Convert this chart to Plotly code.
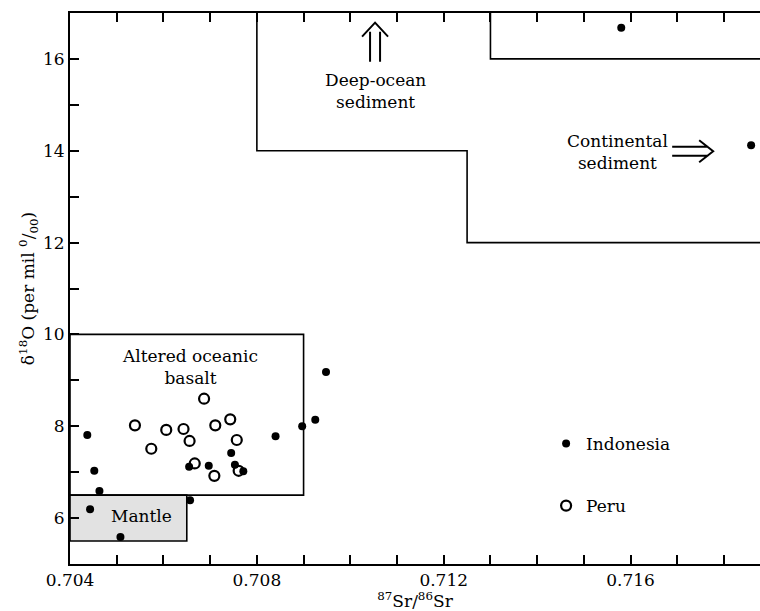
import plotly.graph_objects as go

# Sr-O isotope data: 87Sr/86Sr vs delta-18O (per mil)
indonesia_sr = [0.70437, 0.70452, 0.70463, 0.70443, 0.70508, 0.70657, 0.70655,
                0.70697, 0.70745, 0.70753, 0.70771, 0.70840, 0.70897, 0.70925,
                0.70948, 0.71580, 0.71858]
indonesia_o = [7.81, 7.03, 6.59, 6.19, 5.59, 6.39, 7.12,
               7.14, 7.42, 7.16, 7.02, 7.78, 8.00, 8.14,
               9.18, 16.68, 14.12]

peru_sr = [0.70539, 0.70574, 0.70606, 0.70643, 0.70656, 0.70667, 0.70687,
           0.70711, 0.70709, 0.70743, 0.70757, 0.70761]
peru_o = [8.02, 7.51, 7.92, 7.94, 7.68, 7.19, 8.60,
          8.02, 6.92, 8.15, 7.70, 7.03]

# reservoir fields
basalt_box = dict(x0=0.704, x1=0.709, y0=6.5, y1=10.0)
mantle_box = dict(x0=0.704, x1=0.7065, y0=5.5, y1=6.5)
deep_ocean_edge_x = [0.708, 0.708, 0.7125, 0.7125, 0.720]
deep_ocean_edge_y = [17.0, 14.0, 14.0, 12.0, 12.0]
upper_box_edge_x = [0.713, 0.713, 0.720]
upper_box_edge_y = [17.0, 16.0, 16.0]

x_range = [0.704, 0.71877]
y_range = [5, 17]

FONT = "DejaVu Serif"
FS = 17

fig = go.Figure()

fig.add_trace(go.Scatter(
    x=indonesia_sr, y=indonesia_o, mode="markers", name="Indonesia",
    legendgroup="a",
    marker=dict(symbol="circle", size=8, color="black"),
))
fig.add_trace(go.Scatter(
    x=peru_sr, y=peru_o, mode="markers", name="Peru",
    legendgroup="b",
    marker=dict(symbol="circle-open", size=10, color="black",
                line=dict(width=2.2, color="black")),
))

line_style = dict(color="black", width=1.6)


def poly_path(xs, ys):
    pts = " L ".join(f"{x},{y}" for x, y in zip(xs, ys))
    return "M " + pts


shapes = [
    dict(type="rect", xref="x", yref="y", layer="below",
         fillcolor="#e2e2e2", line=line_style, **mantle_box),
    dict(type="rect", xref="x", yref="y", layer="below",
         fillcolor="rgba(0,0,0,0)", line=line_style, **basalt_box),
    dict(type="path", xref="x", yref="y", layer="below",
         path=poly_path(deep_ocean_edge_x, deep_ocean_edge_y), line=line_style),
    dict(type="path", xref="x", yref="y", layer="below",
         path=poly_path(upper_box_edge_x, upper_box_edge_y), line=line_style),
]

arrow_style = dict(color="black", width=2)

# double-shafted arrows, sized in pixels around a data anchor
up_anchor = (0.71053, 15.94)
shapes += [
    dict(type="path", xref="x", yref="y", xsizemode="pixel", ysizemode="pixel",
         xanchor=up_anchor[0], yanchor=up_anchor[1],
         path="M -5,0 L -5,30 M 5,0 L 5,30 M -13,25 L 0,39 L 13,25",
         line=arrow_style),
]
right_anchor = (0.71689, 13.99)
shapes += [
    dict(type="path", xref="x", yref="y", xsizemode="pixel", ysizemode="pixel",
         xanchor=right_anchor[0], yanchor=right_anchor[1],
         path="M 0,4.5 L 36,4.5 M 0,-4.5 L 36,-4.5 M 27,11 L 41,0 L 27,-11",
         line=arrow_style),
]

annotations = [
    dict(x=0.70657, y=9.29, text="Altered oceanic<br>basalt"),
    dict(x=0.70554, y=6.04, text="Mantle"),
    dict(x=0.71053, y=15.30, text="Deep-ocean<br>sediment"),
    dict(x=0.71572, y=13.97, text="Continental<br>sediment"),
]
for a in annotations:
    a.update(xref="x", yref="y", showarrow=False,
             font=dict(family=FONT, size=FS, color="black"))

axis_common = dict(
    showline=True, linecolor="black", linewidth=2,
    ticks="inside", ticklen=9, tickwidth=1.6, tickcolor="black",
    showgrid=False, zeroline=False, automargin=False,
    tickfont=dict(family=FONT, size=FS, color="black"),
)

fig.update_layout(
    width=760, height=611,
    margin=dict(l=70, r=0, t=13, b=47),
    plot_bgcolor="white", paper_bgcolor="white",
    font=dict(family=FONT, size=FS, color="black"),
    shapes=shapes, annotations=annotations,
    showlegend=True,
    legend=dict(x=0.69, y=0.2505, xanchor="left", yanchor="top",
                bgcolor="rgba(0,0,0,0)", traceorder="grouped",
                tracegroupgap=37, itemwidth=30,
                font=dict(family=FONT, size=FS, color="black")),
    xaxis=dict(
        range=x_range, tick0=0.704, dtick=0.004, tickformat=".3f",
        mirror="ticks",
        minor=dict(dtick=0.001, ticks="inside", ticklen=9, tickwidth=1.6,
                   tickcolor="black", showgrid=False),
        title=dict(text="<sup>87</sup>Sr/<sup>86</sup>Sr", standoff=2,
                   font=dict(family=FONT, size=FS, color="black")),
        **axis_common,
    ),
    yaxis=dict(
        range=y_range, tick0=6, dtick=2,
        minor=dict(dtick=1, ticks="inside", ticklen=9, tickwidth=1.6,
                   tickcolor="black", showgrid=False),
        title=dict(text="δ<sup>18</sup>O (per mil <sup>0</sup>/<sub>00</sub>)",
                   standoff=4,
                   font=dict(family=FONT, size=FS, color="black")),
        **axis_common,
    ),
)

fig.write_html("out.html")
